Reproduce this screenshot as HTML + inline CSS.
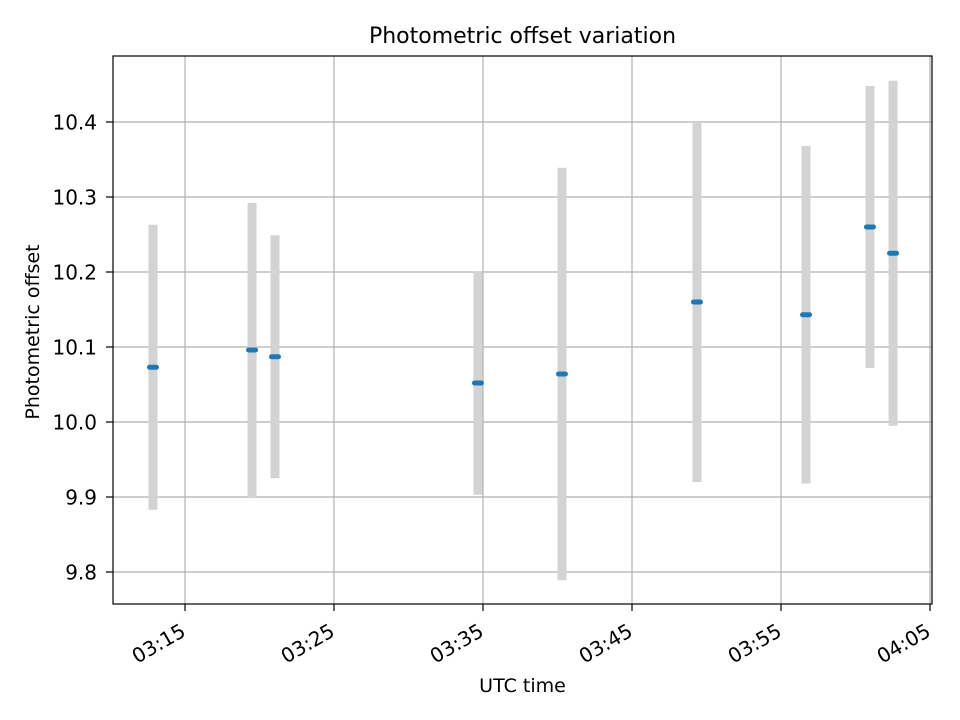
<!DOCTYPE html>
<html><head><meta charset="utf-8"><style>body{margin:0;background:#fff}svg{display:block;font-family:"DejaVu Sans","Liberation Sans",sans-serif}</style></head>
<body>
<svg id="c" width="960" height="720" viewBox="0 0 960 720" xmlns="http://www.w3.org/2000/svg"></svg>
<script>
// minutes since 03:00 UTC
const times=[12.85,19.5,21.04,34.66,40.3,49.36,56.68,60.97,62.52];
const offsets=[10.073,10.096,10.087,10.052,10.064,10.160,10.143,10.260,10.225];
const errors=[0.19,0.196,0.162,0.149,0.275,0.24,0.225,0.188,0.23];
const xTicks=[15,25,35,45,55,65];
const xTickLabels=["03:15","03:25","03:35","03:45","03:55","04:05"];
const yTicks=[9.8,9.9,10.0,10.1,10.2,10.3,10.4];
const yTickLabels=["9.8","9.9","10.0","10.1","10.2","10.3","10.4"];

const L=113,R=932,T=56,B=604;
const xs=m=>185+(m-15)*14.9;
const ys=v=>572-(v-9.8)*750;
const svg=document.getElementById('c');
const NS="http://www.w3.org/2000/svg";
function mk(tag,attrs,parent){const e=document.createElementNS(NS,tag);for(const k in attrs)e.setAttribute(k,attrs[k]);(parent||svg).appendChild(e);return e;}

yTicks.forEach((v,i)=>{
  const g=mk('line',{x1:L,x2:R,y1:ys(v),y2:ys(v),stroke:'#b0b0b0','stroke-width':1.2});
  
  
  const t=mk('line',{x1:L-7,x2:L,y1:ys(v),y2:ys(v),stroke:'#000','stroke-width':1.2});
  
  
  const tx=mk('text',{x:L-16,y:ys(v)+7.5,'text-anchor':'end','font-size':20});
  tx.textContent=yTickLabels[i];
  
  
});
xTicks.forEach((m,i)=>{
  const g=mk('line',{x1:xs(m),x2:xs(m),y1:T,y2:B,stroke:'#b0b0b0','stroke-width':1.2});
  
  
  const t=mk('line',{x1:xs(m),x2:xs(m),y1:B,y2:B+7,stroke:'#000','stroke-width':1.2});
  
  
  const ax=xs(m)+2, ay=B+31;
  const tx=mk('text',{x:ax,y:ay,'text-anchor':'end','font-size':20,transform:`rotate(-30 ${ax} ${ay})`});
  tx.textContent=xTickLabels[i];
  
  
});
times.forEach((m,i)=>{
  const e=mk('line',{x1:xs(m),x2:xs(m),y1:ys(offsets[i]+errors[i]),y2:ys(offsets[i]-errors[i]),stroke:'#d3d3d3','stroke-width':9});
  
  
});
times.forEach((m,i)=>{
  const p=mk('line',{x1:xs(m)-3.5,x2:xs(m)+3.5,y1:ys(offsets[i]),y2:ys(offsets[i]),stroke:'#1f77b4','stroke-width':5,'stroke-linecap':'round'});
  
  
});
const fr=mk('rect',{x:L,y:T,width:R-L,height:B-T,fill:'none',stroke:'#000','stroke-width':1.2});


const ti=mk('text',{x:(L+R)/2,y:43,'text-anchor':'middle','font-size':22});
ti.textContent='Photometric offset variation';


const xl=mk('text',{x:(L+R)/2,y:692,'text-anchor':'middle','font-size':19});
xl.textContent='UTC time';


const yl=mk('text',{x:39,y:(T+B)/2+2,'text-anchor':'middle','font-size':19,transform:`rotate(-90 39 ${(T+B)/2+2})`});
yl.textContent='Photometric offset';


</script>
</body></html>
